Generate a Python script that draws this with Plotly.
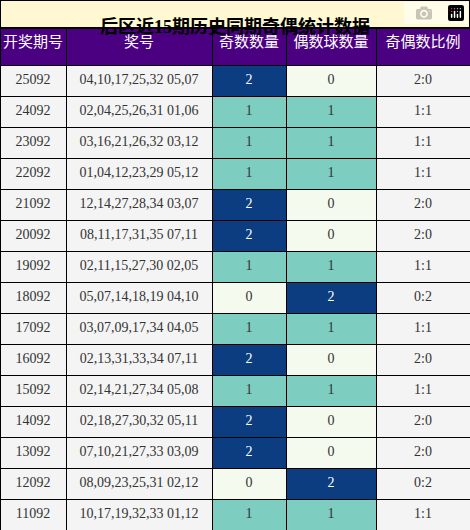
import plotly.graph_objects as go

title = "后区近15期历史同期奇偶统计数据"
headers = ["开奖期号", "奖号", "奇数数量", "偶数球数量", "奇偶数比例"]
periods = ["25092","24092","23092","22092","21092","20092","19092","18092","17092","16092","15092","14092","13092","12092","11092"]
numbers = ["04,10,17,25,32 05,07","02,04,25,26,31 01,06","03,16,21,26,32 03,12","01,04,12,23,29 05,12",
           "12,14,27,28,34 03,07","08,11,17,31,35 07,11","02,11,15,27,30 02,05","05,07,14,18,19 04,10",
           "03,07,09,17,34 04,05","02,13,31,33,34 07,11","02,14,21,27,34 05,08","02,18,27,30,32 05,11",
           "07,10,21,27,33 03,09","08,09,23,25,31 02,12","10,17,19,32,33 01,12"]
odd = [2,1,1,1,2,2,1,0,1,2,1,2,2,0,1]
even = [0,1,1,1,0,0,1,2,1,0,1,0,0,2,1]
ratio = [f"{o}:{e}" for o, e in zip(odd, even)]

fill_map = {2: "#0b3d80", 1: "#7ecdc1", 0: "#f4faee"}
font_map = {2: "white", 1: "#333333", 0: "#333333"}
base = "#f4f4f4"
n = len(periods)

fig = go.Figure(go.Table(
    columnwidth=[66, 146, 74, 90, 94],
    domain=dict(x=[0, 1], y=[0, 1 - 28/530]),
    header=dict(values=headers, fill_color="#4b0082", line=dict(color="black", width=1),
                font=dict(color="white", size=15, family="Noto Sans CJK SC"), height=37, align="center"),
    cells=dict(values=[periods, numbers, odd, even, ratio],
               fill_color=[[base]*n, [base]*n, [fill_map[v] for v in odd], [fill_map[v] for v in even], [base]*n],
               font=dict(color=[["#333"]*n, ["#333"]*n, [font_map[v] for v in odd], [font_map[v] for v in even], ["#333"]*n],
                         size=14, family="Liberation Serif"),
               line=dict(color="black", width=1), height=31, align="center"),
))
fig.add_shape(type="rect", xref="paper", yref="paper", x0=0, x1=1, y0=1 - 28/530, y1=1,
              fillcolor="#fff8d2", line=dict(color="black", width=2))
fig.add_annotation(text="<b>" + title + "</b>", xref="paper", yref="paper", x=0.5, y=1 - 14/530,
                   showarrow=False, font=dict(size=18, color="black", family="Liberation Serif, Noto Sans CJK SC"))
fig.update_layout(width=470, height=530, margin=dict(l=0, r=0, t=0, b=0), paper_bgcolor="white")
fig.write_html("out.html", post_script="document.body.style.margin='0';")
